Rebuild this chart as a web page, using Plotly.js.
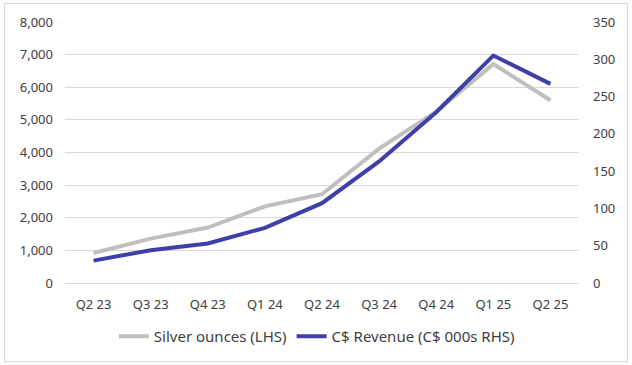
<!DOCTYPE html>
<html>
<head>
<meta charset="utf-8">
<script src="https://cdn.plot.ly/plotly-3.0.1.min.js"></script>
<style>
  html, body { margin: 0; padding: 0; background: #fff; }
  #wrap { position: relative; width: 632px; height: 365px; }
  #chart { position: absolute; left: 0; top: 0; width: 632px; height: 365px; }
  #frame { position: absolute; left: 4px; top: 3px; width: 622px; height: 357px; border: 1px solid #d9d9d9; pointer-events: none; }
</style>
</head>
<body>
<div id="wrap">
  <div id="chart"></div>
  <div id="frame"></div>
</div>
<script>
const quarters = ["Q2 23", "Q3 23", "Q4 23", "Q1 24", "Q2 24", "Q3 24", "Q4 24", "Q1 25", "Q2 25"];
const silverOunces = [920, 1360, 1700, 2350, 2720, 4120, 5250, 6710, 5600];
const revenue = [30, 44, 53, 74, 107, 163, 229, 305, 267];
const leftTicks = [0, 1000, 2000, 3000, 4000, 5000, 6000, 7000, 8000];
const rightTicks = [0, 50, 100, 150, 200, 250, 300, 350];

const font = { family: "Noto Sans, Open Sans, sans-serif", size: 13, color: "#404040" };

const traces = [
  {
    x: quarters, y: silverOunces, type: "scatter", mode: "lines",
    name: "Silver ounces (LHS)", yaxis: "y",
    line: { color: "#bfbfbf", width: 4 }
  },
  {
    x: quarters, y: revenue, type: "scatter", mode: "lines",
    name: "C$ Revenue (C$ 000s RHS)", yaxis: "y2",
    line: { color: "#3f3fa9", width: 4 }
  }
];

const layout = {
  width: 632, height: 365,
  margin: { l: 65, r: 53, t: 22, b: 82 },
  paper_bgcolor: "#fff", plot_bgcolor: "#fff",
  font: font,
  showlegend: true,
  legend: {
    orientation: "h", x: 0.49, xanchor: "center", y: -0.205, yanchor: "middle",
    font: { family: font.family, size: 15, color: "#404040" },
    itemwidth: 30, traceorder: "normal"
  },
  xaxis: {
    type: "category", range: [-0.5, 8.5],
    showgrid: false, zeroline: false, showline: false,
    ticks: "", ticklabelstandoff: 12,
    tickfont: font, fixedrange: true
  },
  yaxis: {
    range: [0, 8000], tickvals: leftTicks,
    ticktext: leftTicks.map(v => v.toLocaleString("en-US")),
    showgrid: true, gridcolor: "#d9d9d9", gridwidth: 1,
    zeroline: true, zerolinecolor: "#d9d9d9", zerolinewidth: 1,
    showline: false, ticks: "", ticklabelstandoff: 11,
    tickfont: font
  },
  yaxis2: {
    overlaying: "y", side: "right",
    range: [0, 350], tickvals: rightTicks,
    showgrid: false, zeroline: false, showline: false,
    ticks: "", ticklabelstandoff: 13,
    tickfont: font
  }
};

Plotly.newPlot("chart", traces, layout, { displayModeBar: false, staticPlot: true });
</script>
</body>
</html>
